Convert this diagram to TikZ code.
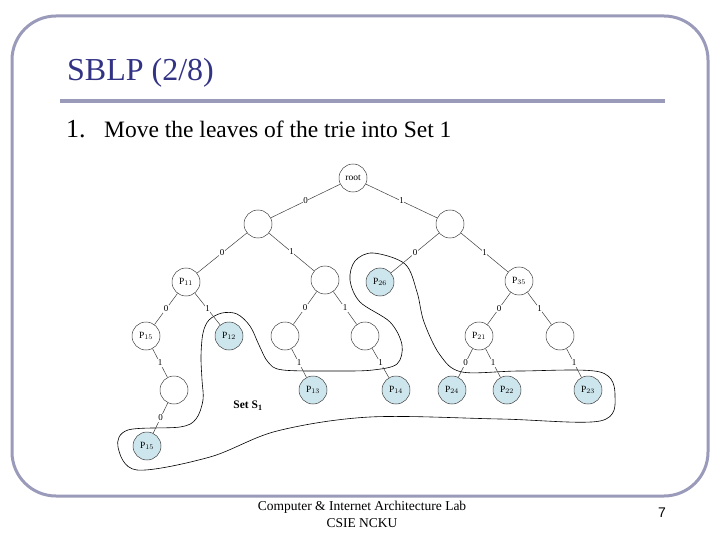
\documentclass[tikz,border=0pt]{standalone}
\usepackage{fontspec}
\setmainfont{Liberation Serif}
\newfontfamily\sansf{Liberation Sans}
\definecolor{framec}{HTML}{9A9ABA}
\definecolor{titlec}{HTML}{333385}
\definecolor{leafc}{HTML}{CDE5EC}
\definecolor{edgec}{HTML}{404040}
\begin{document}
\begin{tikzpicture}[x=1pt,y=-1pt,
  tn/.style={circle,draw=edgec,line width=0.5pt,minimum size=28pt,inner sep=0pt,font=\fontsize{9.5}{9.5}\selectfont},
  lf/.style={tn,fill=leafc},
  el/.style={midway,fill=white,inner sep=0.6pt,font=\fontsize{9}{9}\selectfont},
  ed/.style={draw=edgec,line width=0.5pt}]
\useasboundingbox (0,0) rectangle (720,540);
% slide frame
\draw[framec,line width=3pt,rounded corners=44pt] (12,16) rectangle (708,496);
\draw[framec,line width=4pt] (60,101) -- (665,101);
\node[anchor=base west,inner sep=0pt,text=titlec,font=\fontsize{32}{32}\selectfont] (title) at (67,81) {SBLP (2/8)};
\node[anchor=base west,inner sep=0pt,font=\fontsize{26}{26}\selectfont] (num) at (66,138) {1.};
\node[anchor=base west,inner sep=0pt,font=\fontsize{23.5}{24}\selectfont] (item) at (104,138) {Move the leaves of the trie into Set 1};
\node[inner sep=0pt,align=center,font=\fontsize{13.5}{17}\selectfont] (foot) at (362,514) {Computer \& Internet Architecture Lab\\CSIE NCKU};
\node[anchor=base,inner sep=0pt,font=\sansf\fontsize{14}{14}\selectfont] (page) at (662,517) {7};
% set curve
\draw[line width=0.6pt,black] plot[smooth cycle,tension=0.55] coordinates {
 (118,447) (137,470) (210,457) (277,431) (370,417) (500,419) (600,421) (615,396) (600,372)
 (520,371) (462,372) (440,355) (424,322) (417,292) (405,264) (373,253) (355,261) (350,280)
 (360,302) (390,322) (402,345) (397,364) (373,370) (340,371) (283,370) (268,362) (259,345)
 (250,326) (237,314) (222,313) (209,320) (203,333) (201,356) (202,380) (203,400) (196,419)
 (180,427) (128,430)};
% trie nodes
\node[tn] (root) at (353,178) {root};
\node[tn] (a0) at (258,224) {};
\node[tn] (a1) at (450,224) {};
\node[tn] (p11) at (186,282) {P$_{11}$};
\node[tn] (b01) at (325,280) {};
\node[lf] (p26) at (380,282) {P$_{26}$};
\node[tn] (p35) at (519,281) {P$_{35}$};
\node[tn] (p15a) at (146,336) {P$_{15}$};
\node[lf] (p12) at (229,336) {P$_{12}$};
\node[tn] (c010) at (285,336) {};
\node[tn] (c011) at (365,336) {};
\node[tn] (p21) at (479,336) {P$_{21}$};
\node[tn] (c111) at (560,336) {};
\node[tn] (d) at (174,390) {};
\node[lf] (p13) at (313,390) {P$_{13}$};
\node[lf] (p14) at (396,390) {P$_{14}$};
\node[lf] (p24) at (452,390) {P$_{24}$};
\node[lf] (p22) at (507,390) {P$_{22}$};
\node[lf] (p23) at (588,390) {P$_{23}$};
\node[lf] (p15b) at (147,446) {P$_{15}$};
% edges
\draw[ed] (root) -- node[el]{0} (a0);
\draw[ed] (root) -- node[el]{1} (a1);
\draw[ed] (a0) -- node[el]{0} (p11);
\draw[ed] (a0) -- node[el]{1} (b01);
\draw[ed] (a1) -- node[el]{0} (p26);
\draw[ed] (a1) -- node[el]{1} (p35);
\draw[ed] (p11) -- node[el]{0} (p15a);
\draw[ed] (p11) -- node[el]{1} (p12);
\draw[ed] (b01) -- node[el]{0} (c010);
\draw[ed] (b01) -- node[el]{1} (c011);
\draw[ed] (p35) -- node[el]{0} (p21);
\draw[ed] (p35) -- node[el]{1} (c111);
\draw[ed] (p15a) -- node[el]{1} (d);
\draw[ed] (c010) -- node[el]{1} (p13);
\draw[ed] (c011) -- node[el]{1} (p14);
\draw[ed] (p21) -- node[el]{0} (p24);
\draw[ed] (p21) -- node[el]{1} (p22);
\draw[ed] (c111) -- node[el]{1} (p23);
\draw[ed] (d) -- node[el]{0} (p15b);
\node[font=\bfseries\fontsize{11.5}{11.5}\selectfont] (setlbl) at (248,406) {Set S$_{\mathbf{1}}$};
\end{tikzpicture}
\end{document}
